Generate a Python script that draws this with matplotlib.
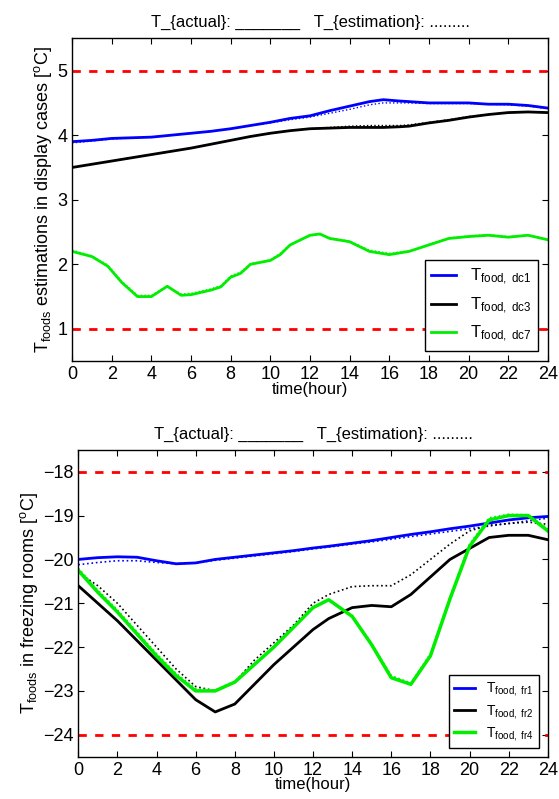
import matplotlib
matplotlib.use("Agg")
import matplotlib.pyplot as plt

plt.rcParams['font.family'] = ['Liberation Sans', 'DejaVu Sans']
plt.rcParams['mathtext.fontset'] = 'custom'
plt.rcParams['mathtext.rm'] = 'Liberation Sans'
plt.rcParams['mathtext.it'] = 'Liberation Sans'

# top panel
t_dc = [0, 1, 2, 3, 4, 5, 6, 7, 8, 9, 10, 11, 12, 13, 14, 15, 15.7, 16.5, 17, 18, 19, 20, 21, 22, 23, 24]
dc1_act = [3.9, 3.92, 3.95, 3.96, 3.97, 4.0, 4.03, 4.06, 4.1, 4.15, 4.2, 4.26, 4.3, 4.38, 4.45, 4.52, 4.55, 4.53, 4.52, 4.5, 4.5, 4.5, 4.48, 4.48, 4.46, 4.42]
dc1_est = [3.88, 3.91, 3.94, 3.96, 3.97, 4.0, 4.03, 4.06, 4.1, 4.15, 4.19, 4.24, 4.28, 4.34, 4.4, 4.47, 4.5, 4.5, 4.5, 4.49, 4.49, 4.49, 4.48, 4.47, 4.45, 4.41]
dc3_act = [3.5, 3.55, 3.6, 3.65, 3.7, 3.75, 3.8, 3.86, 3.92, 3.98, 4.03, 4.07, 4.1, 4.11, 4.12, 4.12, 4.12, 4.13, 4.14, 4.19, 4.23, 4.28, 4.32, 4.35, 4.36, 4.35]
dc3_est = [3.5, 3.55, 3.6, 3.65, 3.7, 3.75, 3.8, 3.86, 3.92, 3.98, 4.03, 4.07, 4.1, 4.12, 4.14, 4.15, 4.15, 4.15, 4.16, 4.2, 4.24, 4.29, 4.32, 4.35, 4.36, 4.35]
t_dc7 = [0, 1, 1.8, 2.5, 3.3, 4, 4.8, 5.5, 6, 7, 7.5, 8, 8.5, 9, 10, 10.5, 11, 12, 12.5, 13, 14, 15, 16, 17, 18, 19, 20, 21, 22, 23, 24]
dc7_act = [2.2, 2.12, 1.97, 1.72, 1.5, 1.5, 1.66, 1.52, 1.53, 1.6, 1.65, 1.8, 1.86, 2.0, 2.06, 2.15, 2.3, 2.45, 2.47, 2.4, 2.35, 2.2, 2.15, 2.2, 2.3, 2.4, 2.43, 2.45, 2.42, 2.45, 2.38]
dc7_est = [2.22, 2.13, 1.99, 1.74, 1.52, 1.52, 1.66, 1.54, 1.55, 1.62, 1.67, 1.82, 1.88, 2.01, 2.07, 2.17, 2.31, 2.44, 2.46, 2.41, 2.36, 2.22, 2.17, 2.21, 2.31, 2.41, 2.44, 2.46, 2.43, 2.45, 2.39]

# bottom panel
t_fr = [0, 1, 2, 3, 4, 5, 6, 7, 8, 9, 10, 11, 12, 12.8, 14, 15, 16, 17, 18, 19, 20, 21, 22, 23, 24]
fr1_act = [-20.0, -19.96, -19.94, -19.95, -20.03, -20.1, -20.08, -20.0, -19.95, -19.9, -19.85, -19.8, -19.74, -19.7, -19.63, -19.57, -19.5, -19.43, -19.37, -19.3, -19.24, -19.17, -19.1, -19.05, -19.02]
fr1_est = [-20.12, -20.07, -20.03, -20.03, -20.07, -20.1, -20.08, -20.02, -19.97, -19.92, -19.87, -19.82, -19.76, -19.72, -19.65, -19.6, -19.54, -19.48, -19.42, -19.36, -19.3, -19.24, -19.18, -19.12, -19.06]
fr2_act = [-20.6, -21.0, -21.4, -21.85, -22.3, -22.75, -23.2, -23.48, -23.3, -22.85, -22.4, -22.0, -21.6, -21.35, -21.1, -21.05, -21.08, -20.8, -20.4, -20.0, -19.75, -19.5, -19.45, -19.45, -19.55]
fr2_est = [-20.3, -20.6, -21.0, -21.5, -22.0, -22.5, -22.9, -23.0, -22.8, -22.3, -21.9, -21.5, -21.0, -20.8, -20.62, -20.6, -20.6, -20.35, -20.0, -19.65, -19.35, -19.22, -19.18, -19.15, -19.2]
fr4_act = [-20.25, -20.75, -21.2, -21.7, -22.2, -22.65, -23.0, -23.0, -22.8, -22.4, -22.0, -21.55, -21.1, -20.92, -21.3, -21.95, -22.7, -22.85, -22.2, -20.9, -19.7, -19.1, -19.0, -19.0, -19.35]
fr4_est = [-20.2, -20.7, -21.15, -21.65, -22.15, -22.6, -22.95, -22.98, -22.78, -22.38, -21.98, -21.55, -21.1, -20.93, -21.28, -21.92, -22.65, -22.82, -22.15, -20.85, -19.65, -19.05, -18.97, -18.98, -19.3]

title = 'T_{actual}: _______   T_{estimation}: .........'
xt = list(range(0, 25, 2))

fig = plt.figure(figsize=(5.59, 7.99), dpi=100)
ax1 = fig.add_axes([0.129, 0.548, 0.851, 0.404])
ax2 = fig.add_axes([0.140, 0.053, 0.840, 0.384])

for ax in (ax1, ax2):
    ax.tick_params(direction='in', labelsize=13, top=True, right=True, length=4)
    for s in ax.spines.values():
        s.set_linewidth(1.0)
    ax.set_xlim(0, 24)
    ax.set_xticks(xt)
    ax.set_title(title, fontsize=12, pad=8)
    ax.set_xlabel('time(hour)', fontsize=12, labelpad=-1)

ax1.axhline(5, color='red', ls='--', lw=2, dashes=(3, 3))
ax1.axhline(1, color='red', ls='--', lw=2, dashes=(3, 3))
ax1.plot(t_dc, dc1_act, color='blue', lw=2, label=r'$\mathrm{T_{food,\ dc1}}$')
ax1.plot(t_dc, dc1_est, color='blue', lw=1, ls=':')
ax1.plot(t_dc, dc3_act, color='black', lw=2, label=r'$\mathrm{T_{food,\ dc3}}$')
ax1.plot(t_dc, dc3_est, color='black', lw=1, ls=':')
ax1.plot(t_dc7, dc7_act, color='#00ee00', lw=2, label=r'$\mathrm{T_{food,\ dc7}}$')
ax1.plot(t_dc7, dc7_est, color='#00ee00', lw=1, ls=':')
ax1.set_ylim(0.5, 5.5)
ax1.set_yticks([1, 2, 3, 4, 5])
ax1.set_ylabel(r'$\mathrm{T_{foods}}$ estimations in display cases [$\mathrm{^oC}$]', fontsize=13, labelpad=2)
ax1.legend(loc='lower right', fontsize=12, frameon=True, fancybox=False, edgecolor='black',
           framealpha=1, borderaxespad=0.6, handlelength=1.5)

ax2.axhline(-18, color='red', ls='--', lw=2, dashes=(3, 3))
ax2.axhline(-24, color='red', ls='--', lw=2, dashes=(3, 3))
ax2.plot(t_fr, fr1_act, color='blue', lw=2, label=r'$\mathrm{T_{food,\ fr1}}$')
ax2.plot(t_fr, fr1_est, color='blue', lw=1.2, ls=':')
ax2.plot(t_fr, fr2_act, color='black', lw=2, label=r'$\mathrm{T_{food,\ fr2}}$')
ax2.plot(t_fr, fr2_est, color='black', lw=1.2, ls=':')
ax2.plot(t_fr, fr4_act, color='#00ee00', lw=2.5, label=r'$\mathrm{T_{food,\ fr4}}$')
ax2.plot(t_fr, fr4_est, color='#00ee00', lw=1.2, ls=':')
ax2.set_ylim(-24.5, -17.5)
ax2.set_yticks([-24, -23, -22, -21, -20, -19, -18])
ax2.set_yticklabels(['\u221224', '\u221223', '\u221222', '\u221221', '\u221220', '\u221219', '\u221218'])
ax2.set_ylabel(r'$\mathrm{T_{foods}}$ in freezing rooms [$\mathrm{^oC}$]', fontsize=13, labelpad=2)
ax2.legend(loc='lower right', fontsize=10, frameon=True, fancybox=False, edgecolor='black',
           framealpha=1, borderaxespad=0.6, handlelength=1.5, labelspacing=0.3)

fig.savefig('out.png', dpi=100)
